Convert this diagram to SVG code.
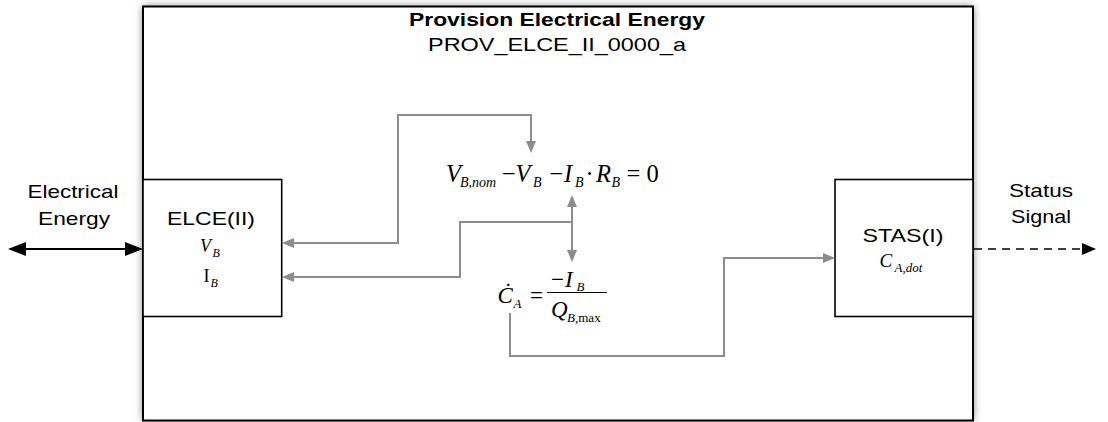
<svg xmlns="http://www.w3.org/2000/svg" width="1108" height="422" viewBox="0 0 1108 422">
<style>
.sans{font-family:"Liberation Sans",Arial,sans-serif;fill:#000}
.ser{font-family:"Liberation Serif","Times New Roman",serif;fill:#000}
.it{font-style:italic}
.box{fill:#fff;stroke:#000;stroke-width:1.6}
.conn{fill:none;stroke:#8c8c8c;stroke-width:2}
</style>
<defs>
<filter id="sh" x="-5%" y="-10%" width="110%" height="120%">
<feGaussianBlur stdDeviation="4"/>
</filter>
<marker id="ag" markerWidth="12" markerHeight="10" refX="10" refY="5" orient="auto-start-reverse" markerUnits="userSpaceOnUse">
<path d="M0,0 L12,5 L0,10 z" fill="#8c8c8c"/>
</marker>
<marker id="ab" markerWidth="18" markerHeight="14" refX="16" refY="7" orient="auto-start-reverse" markerUnits="userSpaceOnUse">
<path d="M0,0 L18,7 L0,14 z" fill="#000"/>
</marker>
<marker id="ad" markerWidth="14" markerHeight="12" refX="12" refY="6" orient="auto" markerUnits="userSpaceOnUse">
<path d="M0,0 L14,6 L0,12 z" fill="#000"/>
</marker>
</defs>

<g id="node-prov">
<rect x="143" y="6.5" width="830" height="414" fill="#000" opacity="0.55" filter="url(#sh)"/>
<rect x="143" y="6.5" width="830" height="414" fill="#fff" stroke="#000" stroke-width="2"/>
<text class="sans" x="557" y="25.5" font-size="18.6" font-weight="bold" text-anchor="middle" textLength="296" lengthAdjust="spacingAndGlyphs">Provision Electrical Energy</text>
<text class="sans" x="557" y="51" font-size="18.6" text-anchor="middle" textLength="258" lengthAdjust="spacingAndGlyphs">PROV_ELCE_II_0000_a</text>
</g>

<g id="node-elce">
<rect class="box" x="143" y="179.5" width="138.7" height="137"/>
<text class="sans" x="211" y="225" font-size="18.6" text-anchor="middle" textLength="88" lengthAdjust="spacingAndGlyphs">ELCE(II)</text>
<text class="ser it" x="200" y="252" font-size="18">V</text>
<text class="ser it" x="212.5" y="257" font-size="12">B</text>
<text class="ser" x="203.5" y="282" font-size="18">I</text>
<text class="ser it" x="210.5" y="287" font-size="12">B</text>
</g>

<g id="node-stas">
<rect class="box" x="835" y="179.5" width="138" height="137"/>
<text class="sans" x="903" y="241.7" font-size="18.6" text-anchor="middle" textLength="81" lengthAdjust="spacingAndGlyphs">STAS(I)</text>
<text class="ser it" x="879.5" y="267" font-size="19">C</text>
<text class="ser it" x="894.5" y="272" font-size="13">A,dot</text>
</g>

<g id="node-eq1">
<text class="ser it" x="446" y="181.5" font-size="24.5">V</text>
<text class="ser it" x="460" y="187" font-size="14">B,nom</text>
<text class="ser" x="502" y="181.5" font-size="24.5">−</text>
<text class="ser it" x="515.5" y="181.5" font-size="24.5">V</text>
<text class="ser it" x="533" y="187" font-size="14">B</text>
<text class="ser" x="549.5" y="181.5" font-size="24.5">−</text>
<text class="ser it" x="564" y="181.5" font-size="24.5">I</text>
<text class="ser it" x="575" y="187" font-size="14">B</text>
<text class="ser" x="585.5" y="181.5" font-size="24.5">·</text>
<text class="ser it" x="596" y="181.5" font-size="24.5">R</text>
<text class="ser it" x="611.5" y="187" font-size="14">B</text>
<text class="ser" x="626.5" y="181.5" font-size="24.5">=</text>
<text class="ser" x="646.5" y="181.5" font-size="24.5">0</text>
</g>

<g id="node-eq2">
<text class="ser it" x="497.5" y="303" font-size="23">Ċ</text>
<text class="ser it" x="513.5" y="308" font-size="13">A</text>
<text class="ser" x="530" y="303" font-size="23">=</text>
<line x1="547" y1="292.5" x2="607" y2="292.5" stroke="#000" stroke-width="1.2"/>
<text class="ser" x="551" y="287" font-size="23">−</text>
<text class="ser it" x="565" y="287" font-size="23">I</text>
<text class="ser it" x="576.5" y="291" font-size="13">B</text>
<text class="ser it" x="551" y="317" font-size="23">Q</text>
<text class="ser it" x="567" y="322" font-size="13">B</text>
<text class="ser" x="575" y="322" font-size="13">,max</text>
</g>

<g id="connectors">
<path class="conn" d="M284 243 H398 V115 H531 V151" marker-start="url(#ag)" marker-end="url(#ag)"/>
<path class="conn" d="M284 277 H460 V222 H572"  marker-start="url(#ag)"/>
<path class="conn" d="M572 197 V260" marker-start="url(#ag)" marker-end="url(#ag)"/>
<path class="conn" d="M510 313 V356 H724 V258 H833" marker-end="url(#ag)"/>
<path d="M10 249 H141" fill="none" stroke="#000" stroke-width="2" marker-start="url(#ab)" marker-end="url(#ab)"/>
<path d="M974 249 H1094" fill="none" stroke="#000" stroke-width="1.6" stroke-dasharray="8,6" marker-end="url(#ad)"/>
</g>

<g id="labels">
<text class="sans" x="73" y="198" font-size="18.6" text-anchor="middle" textLength="91" lengthAdjust="spacingAndGlyphs">Electrical</text>
<text class="sans" x="74" y="225" font-size="18.6" text-anchor="middle" textLength="72" lengthAdjust="spacingAndGlyphs">Energy</text>
<text class="sans" x="1041" y="197" font-size="18.6" text-anchor="middle" textLength="64" lengthAdjust="spacingAndGlyphs">Status</text>
<text class="sans" x="1041" y="223" font-size="18.6" text-anchor="middle" textLength="60" lengthAdjust="spacingAndGlyphs">Signal</text>
</g>
</svg>
